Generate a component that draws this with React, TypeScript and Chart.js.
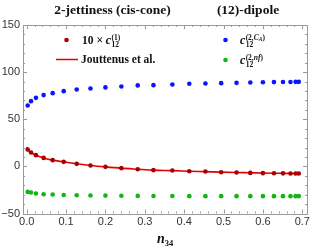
import React, { useEffect, useRef } from "react";
import { Chart, registerables } from "chart.js";
Chart.register(...registerables);

const n34 = [0.0025, 0.011, 0.0235, 0.043, 0.066, 0.094, 0.127, 0.162, 0.2, 0.2405, 0.282, 0.322, 0.37, 0.413, 0.454, 0.494, 0.533, 0.568, 0.6, 0.628, 0.651, 0.67, 0.683, 0.691];
const c1x10 = [17.9, 14.8, 11.9, 9.0, 6.6, 4.8, 2.7, 1.0, -0.5, -1.9, -3.0, -4.0, -4.4, -5.1, -5.4, -6.2, -6.5, -6.9, -7.2, -7.3, -7.4, -7.5, -7.5, -7.6];
const jouttenusX = [0, 0.0025, 0.011, 0.0235, 0.043, 0.066, 0.094, 0.127, 0.162, 0.2, 0.2405, 0.282, 0.322, 0.37, 0.413, 0.454, 0.494, 0.533, 0.568, 0.6, 0.628, 0.651, 0.67, 0.683, 0.691];
const jouttenusY = [20.6, 17.9, 14.8, 11.9, 9.0, 6.6, 4.8, 2.7, 1.0, -0.5, -1.9, -3.0, -4.0, -4.5, -5.1, -5.6, -6.1, -6.5, -6.8, -7.1, -7.3, -7.4, -7.5, -7.55, -7.6];
const c2CA = [64.6, 69.2, 72.7, 75.6, 77.7, 79.8, 81.6, 82.7, 83.8, 84.8, 85.9, 86.2, 86.9, 87.6, 88.0, 88.3, 88.6, 89.0, 89.2, 89.4, 89.5, 89.6, 89.7, 89.7];
const c2nf = [-27.1, -27.7, -28.8, -29.5, -29.8, -30.3, -30.6, -30.9, -31.0, -31.2, -31.3, -31.4, -31.5, -31.6, -31.6, -31.6, -31.6, -31.6, -31.6, -31.6, -31.6, -31.6, -31.6, -31.6];
const xTicks = [0, 0.1, 0.2, 0.3, 0.4, 0.5, 0.6, 0.7];
const yTicks = [-50, 0, 50, 100, 150];
const titleLeft = "2-jettiness (cis-cone)";
const titleRight = "(12)-dipole";

const RED_PT = "#a80000";
const RED_LINE = "#e20000";
const BLUE = "#0a14ff";
const GREEN = "#14b414";
const FRAME = "#9a9a9a";
const SERIF = "'Liberation Serif', 'DejaVu Serif', serif";

type Seg = { t: string; font: string; dy: number };

// draws a sequence of segments, returns end x
function drawSegs(ctx: CanvasRenderingContext2D, x: number, y: number, segs: Seg[]) {
  let cx = x;
  for (const s of segs) {
    ctx.font = s.font;
    ctx.fillText(s.t, cx, y + s.dy);
    cx += ctx.measureText(s.t).width;
  }
  return cx;
}

function drawC12(ctx: CanvasRenderingContext2D, x: number, y: number, supSegs: Seg[]) {
  const cEnd = drawSegs(ctx, x, y, [{ t: "c", font: `italic bold 12px ${SERIF}`, dy: 0 }]);
  const subEnd = drawSegs(ctx, cEnd + 0.3, y, [{ t: "12", font: `bold 7.5px ${SERIF}`, dy: 3 }]);
  const supEnd = drawSegs(ctx, cEnd + 0.3, y, supSegs);
  return Math.max(subEnd, supEnd);
}

const framePlugin = {
  id: "framePlugin",
  beforeDatasetsDraw(chart: any) {
    const { ctx, chartArea: a, scales } = chart;
    const xs = scales.x, ys = scales.y;
    ctx.save();
    ctx.strokeStyle = FRAME;
    ctx.lineWidth = 1;
    ctx.beginPath();
    for (let i = 0; i <= 35; i++) {
      const v = i * 0.02;
      const px = Math.round(xs.getPixelForValue(v)) + 0.5;
      const len = i % 5 === 0 ? 4 : 2;
      ctx.moveTo(px, a.bottom); ctx.lineTo(px, a.bottom - len);
      ctx.moveTo(px, a.top); ctx.lineTo(px, a.top + len);
    }
    for (let i = 0; i <= 20; i++) {
      const v = -50 + i * 10;
      const py = Math.round(ys.getPixelForValue(v)) + 0.5;
      const len = i % 5 === 0 ? 4 : 2;
      ctx.moveTo(a.left, py); ctx.lineTo(a.left + len, py);
      ctx.moveTo(a.right, py); ctx.lineTo(a.right - len, py);
    }
    ctx.stroke();
    ctx.strokeRect(Math.round(a.left) + 0.5, Math.round(a.top) + 0.5, Math.round(a.right - a.left), Math.round(a.bottom - a.top));
    ctx.restore();
  },
  afterDraw(chart: any) {
    const { ctx } = chart;
    ctx.save();
    ctx.fillStyle = "#111";
    ctx.textBaseline = "alphabetic";
    ctx.textAlign = "center";
    ctx.font = `bold 13.5px ${SERIF}`;
    ctx.fillText(titleLeft, 112.5, 14);
    ctx.fillText(titleRight, 248, 14);
    ctx.textAlign = "left";
    // axis title n34
    drawSegs(ctx, 157, 243, [
      { t: "n", font: `italic bold 14px ${SERIF}`, dy: 0 },
      { t: "34", font: `bold 8.5px ${SERIF}`, dy: 3 },
    ]);
    const supFont = `bold 7.5px ${SERIF}`;
    const supIt = `italic bold 7.5px ${SERIF}`;
    // legend markers
    ctx.fillStyle = RED_PT;
    ctx.beginPath(); ctx.arc(66.5, 40, 2.3, 0, Math.PI * 2); ctx.fill();
    ctx.fillStyle = BLUE;
    ctx.beginPath(); ctx.arc(225.5, 40, 2.3, 0, Math.PI * 2); ctx.fill();
    ctx.fillStyle = GREEN;
    ctx.beginPath(); ctx.arc(225.5, 60, 2.3, 0, Math.PI * 2); ctx.fill();
    ctx.strokeStyle = RED_LINE;
    ctx.lineWidth = 1.5;
    ctx.beginPath(); ctx.moveTo(56, 59.5); ctx.lineTo(78, 59.5); ctx.stroke();
    // legend labels
    ctx.fillStyle = "#111";
    const afterTen = drawSegs(ctx, 82, 44, [{ t: "10 × ", font: `bold 11.5px ${SERIF}`, dy: 0 }]);
    drawC12(ctx, afterTen, 44, [{ t: "(1)", font: supFont, dy: -4.5 }]);
    ctx.font = `bold 11.5px ${SERIF}`;
    ctx.fillText("Jouttenus et al.", 81, 63);
    drawC12(ctx, 240, 44, [
      { t: "(2,", font: supFont, dy: -4.5 },
      { t: "C", font: supIt, dy: -4.5 },
      { t: "A", font: `italic bold 5.5px ${SERIF}`, dy: -3 },
      { t: ")", font: supFont, dy: -4.5 },
    ]);
    drawC12(ctx, 240, 64, [
      { t: "(2,", font: supFont, dy: -4.5 },
      { t: "nf", font: supIt, dy: -4.5 },
      { t: ")", font: supFont, dy: -4.5 },
    ]);
    ctx.restore();
  },
};

export default function App() {
  const ref = useRef<HTMLCanvasElement>(null);
  useEffect(() => {
    const pts = (ys: number[], xs: number[]) => ys.map((y, i) => ({ x: xs[i], y }));
    const chart = new Chart(ref.current!, {
      type: "scatter",
      data: {
        datasets: [
          { label: "Jouttenus et al.", data: pts(jouttenusY, jouttenusX), showLine: true, borderColor: RED_LINE, borderWidth: 1.6, pointRadius: 0, cubicInterpolationMode: "monotone", order: 2 } as any,
          { label: "10 × c12(1)", data: pts(c1x10, n34), backgroundColor: RED_PT, borderWidth: 0, pointRadius: 2.3, order: 1 },
          { label: "c12(2,CA)", data: pts(c2CA, n34), backgroundColor: BLUE, borderWidth: 0, pointRadius: 2.3, order: 1 },
          { label: "c12(2,nf)", data: pts(c2nf, n34), backgroundColor: GREEN, borderWidth: 0, pointRadius: 2.3, order: 1 },
        ],
      },
      options: {
        animation: false,
        responsive: false,
        events: [],
        layout: { padding: { top: 25, right: 4, left: 0, bottom: 0 } },
        plugins: { legend: { display: false }, tooltip: { enabled: false }, title: { display: false } },
        scales: {
          x: {
            type: "linear",
            min: -0.0094,
            max: 0.712,
            grid: { display: false, drawTicks: false },
            border: { display: false },
            afterBuildTicks: (axis: any) => { axis.ticks = xTicks.map((v) => ({ value: v })); },
            afterFit: (axis: any) => { axis.height = 38.5; },
            ticks: {
              autoSkip: false,
              maxRotation: 0,
              padding: 2,
              color: "#333",
              font: { family: "'Liberation Sans', Arial, sans-serif", size: 11 },
              callback: (v: any) => Number(v).toFixed(1),
            },
          },
          y: {
            type: "linear",
            min: -50,
            max: 150,
            grid: { display: false, drawTicks: false },
            border: { display: false },
            afterBuildTicks: (axis: any) => { axis.ticks = yTicks.map((v) => ({ value: v })); },
            afterFit: (axis: any) => { axis.width = 23; },
            ticks: {
              autoSkip: false,
              padding: 3,
              color: "#333",
              font: { family: "'Liberation Sans', Arial, sans-serif", size: 11 },
              callback: (v: any) => (Number(v) < 0 ? "\u2212" + Math.abs(Number(v)) : String(v)),
            },
          },
        },
      },
      plugins: [framePlugin],
    });
    return () => chart.destroy();
  }, []);
  return (
    <div style={{ position: "fixed", left: 0, top: 0, width: 312, height: 252, background: "#fff" }}>
      <canvas ref={ref} width={312} height={252} style={{ width: 312, height: 252, display: "block" }} />
    </div>
  );
}
